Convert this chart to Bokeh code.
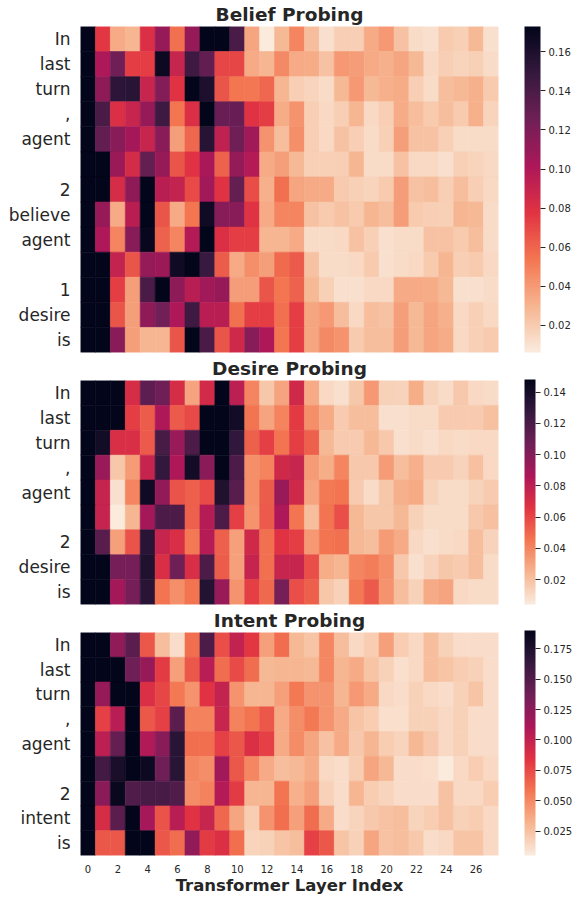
import numpy as np
from bokeh.plotting import figure
from bokeh.models import (ColumnDataSource, LinearColorMapper, ColorBar, FixedTicker,
                          PrintfTickFormatter, Range1d, Title)
from bokeh.layouts import column
from bokeh.embed import file_html
from bokeh.resources import INLINE

# ---------------- data ----------------
layers = list(range(28))
layer_ticks = list(range(0, 28, 2))

belief_tokens = ["In", "last", "turn", ",", "agent", "", "2", "believe", "agent", "", "1", "desire", "is"]
belief_values = [
    [0.173, 0.076, 0.034, 0.029, 0.081, 0.110, 0.056, 0.110, 0.173, 0.173, 0.140, 0.036, 0.006, 0.028, 0.048, 0.026, 0.011, 0.019, 0.019, 0.034, 0.041, 0.024, 0.013, 0.011, 0.021, 0.018, 0.028, 0.011],
    [0.173, 0.101, 0.126, 0.074, 0.074, 0.168, 0.090, 0.145, 0.131, 0.071, 0.071, 0.034, 0.029, 0.046, 0.034, 0.033, 0.024, 0.041, 0.039, 0.034, 0.031, 0.036, 0.028, 0.014, 0.019, 0.016, 0.018, 0.013],
    [0.173, 0.113, 0.153, 0.155, 0.090, 0.118, 0.078, 0.173, 0.160, 0.066, 0.054, 0.053, 0.059, 0.029, 0.019, 0.016, 0.013, 0.028, 0.041, 0.028, 0.031, 0.033, 0.019, 0.013, 0.026, 0.028, 0.031, 0.021],
    [0.173, 0.140, 0.081, 0.090, 0.110, 0.145, 0.054, 0.081, 0.173, 0.128, 0.128, 0.078, 0.074, 0.033, 0.043, 0.019, 0.014, 0.019, 0.029, 0.014, 0.019, 0.033, 0.026, 0.021, 0.026, 0.021, 0.031, 0.016],
    [0.173, 0.131, 0.116, 0.105, 0.090, 0.115, 0.038, 0.059, 0.156, 0.093, 0.126, 0.106, 0.043, 0.026, 0.044, 0.019, 0.014, 0.024, 0.019, 0.013, 0.018, 0.038, 0.024, 0.024, 0.018, 0.013, 0.013, 0.013],
    [0.173, 0.173, 0.108, 0.084, 0.130, 0.110, 0.066, 0.078, 0.103, 0.061, 0.111, 0.098, 0.034, 0.038, 0.028, 0.018, 0.018, 0.019, 0.029, 0.013, 0.013, 0.024, 0.014, 0.014, 0.011, 0.018, 0.016, 0.014],
    [0.173, 0.173, 0.083, 0.113, 0.173, 0.096, 0.091, 0.069, 0.106, 0.079, 0.130, 0.068, 0.031, 0.056, 0.036, 0.034, 0.034, 0.021, 0.018, 0.016, 0.021, 0.039, 0.024, 0.026, 0.019, 0.026, 0.019, 0.014],
    [0.173, 0.110, 0.034, 0.096, 0.173, 0.066, 0.034, 0.054, 0.166, 0.116, 0.116, 0.079, 0.034, 0.048, 0.048, 0.024, 0.021, 0.024, 0.021, 0.029, 0.026, 0.039, 0.021, 0.019, 0.018, 0.029, 0.028, 0.013],
    [0.173, 0.101, 0.048, 0.116, 0.170, 0.061, 0.048, 0.098, 0.173, 0.081, 0.074, 0.074, 0.029, 0.029, 0.034, 0.013, 0.013, 0.014, 0.024, 0.018, 0.011, 0.013, 0.013, 0.024, 0.024, 0.021, 0.026, 0.013],
    [0.173, 0.173, 0.091, 0.066, 0.111, 0.108, 0.166, 0.173, 0.148, 0.063, 0.034, 0.044, 0.038, 0.058, 0.064, 0.024, 0.013, 0.013, 0.014, 0.021, 0.011, 0.013, 0.014, 0.021, 0.029, 0.019, 0.021, 0.014],
    [0.173, 0.173, 0.074, 0.038, 0.140, 0.173, 0.113, 0.096, 0.106, 0.110, 0.039, 0.039, 0.066, 0.054, 0.061, 0.028, 0.018, 0.011, 0.011, 0.014, 0.014, 0.034, 0.034, 0.033, 0.028, 0.011, 0.011, 0.013],
    [0.173, 0.173, 0.066, 0.038, 0.113, 0.125, 0.101, 0.145, 0.096, 0.096, 0.056, 0.074, 0.074, 0.056, 0.074, 0.036, 0.041, 0.026, 0.014, 0.026, 0.024, 0.038, 0.028, 0.036, 0.031, 0.014, 0.018, 0.014],
    [0.173, 0.173, 0.115, 0.038, 0.029, 0.029, 0.066, 0.173, 0.140, 0.066, 0.086, 0.116, 0.101, 0.054, 0.074, 0.036, 0.046, 0.043, 0.021, 0.026, 0.026, 0.039, 0.028, 0.036, 0.033, 0.014, 0.018, 0.021],
]
belief_ticks = [0.02, 0.04, 0.06, 0.08, 0.10, 0.12, 0.14, 0.16]

desire_tokens = ["In", "last", "turn", ",", "agent", "", "2", "desire", "is"]
desire_values = [
    [0.148, 0.148, 0.148, 0.070, 0.113, 0.108, 0.070, 0.030, 0.072, 0.148, 0.080, 0.040, 0.018, 0.030, 0.073, 0.028, 0.011, 0.008, 0.018, 0.034, 0.014, 0.013, 0.027, 0.013, 0.010, 0.017, 0.011, 0.010],
    [0.148, 0.148, 0.148, 0.063, 0.053, 0.086, 0.054, 0.059, 0.148, 0.148, 0.141, 0.046, 0.030, 0.041, 0.064, 0.037, 0.028, 0.016, 0.021, 0.021, 0.008, 0.008, 0.010, 0.010, 0.016, 0.016, 0.016, 0.020],
    [0.148, 0.141, 0.069, 0.069, 0.054, 0.121, 0.093, 0.119, 0.148, 0.148, 0.129, 0.052, 0.062, 0.046, 0.063, 0.052, 0.023, 0.016, 0.016, 0.023, 0.017, 0.008, 0.010, 0.008, 0.011, 0.010, 0.011, 0.011],
    [0.148, 0.093, 0.018, 0.033, 0.077, 0.128, 0.085, 0.141, 0.098, 0.148, 0.119, 0.037, 0.041, 0.073, 0.076, 0.033, 0.027, 0.040, 0.017, 0.017, 0.033, 0.021, 0.026, 0.016, 0.016, 0.013, 0.020, 0.011],
    [0.148, 0.077, 0.008, 0.040, 0.142, 0.095, 0.056, 0.052, 0.059, 0.136, 0.115, 0.037, 0.053, 0.093, 0.073, 0.030, 0.044, 0.046, 0.016, 0.010, 0.018, 0.026, 0.028, 0.013, 0.010, 0.010, 0.013, 0.016],
    [0.148, 0.077, 0.004, 0.024, 0.089, 0.119, 0.119, 0.052, 0.083, 0.119, 0.062, 0.036, 0.054, 0.085, 0.046, 0.021, 0.046, 0.057, 0.023, 0.018, 0.018, 0.023, 0.014, 0.010, 0.010, 0.010, 0.017, 0.020],
    [0.148, 0.115, 0.031, 0.056, 0.132, 0.076, 0.069, 0.044, 0.083, 0.052, 0.031, 0.073, 0.047, 0.066, 0.063, 0.034, 0.046, 0.047, 0.023, 0.021, 0.033, 0.028, 0.011, 0.008, 0.010, 0.011, 0.021, 0.013],
    [0.148, 0.148, 0.105, 0.105, 0.136, 0.069, 0.108, 0.069, 0.119, 0.053, 0.031, 0.077, 0.047, 0.076, 0.076, 0.057, 0.027, 0.024, 0.040, 0.043, 0.037, 0.017, 0.008, 0.013, 0.018, 0.016, 0.021, 0.010],
    [0.148, 0.148, 0.089, 0.105, 0.132, 0.046, 0.037, 0.046, 0.135, 0.093, 0.036, 0.062, 0.049, 0.105, 0.057, 0.052, 0.018, 0.014, 0.044, 0.054, 0.036, 0.021, 0.014, 0.028, 0.030, 0.011, 0.010, 0.010],
]
desire_ticks = [0.02, 0.04, 0.06, 0.08, 0.10, 0.12, 0.14]

intent_tokens = ["In", "last", "turn", ",", "agent", "", "2", "intent", "is"]
intent_values = [
    [0.190, 0.190, 0.123, 0.147, 0.070, 0.027, 0.012, 0.061, 0.153, 0.073, 0.101, 0.083, 0.040, 0.062, 0.029, 0.024, 0.051, 0.027, 0.014, 0.020, 0.040, 0.020, 0.014, 0.027, 0.018, 0.012, 0.012, 0.012],
    [0.190, 0.190, 0.190, 0.138, 0.120, 0.081, 0.040, 0.070, 0.105, 0.062, 0.075, 0.062, 0.029, 0.031, 0.031, 0.029, 0.051, 0.031, 0.036, 0.024, 0.018, 0.011, 0.014, 0.027, 0.024, 0.020, 0.018, 0.012],
    [0.190, 0.120, 0.190, 0.190, 0.088, 0.077, 0.057, 0.046, 0.085, 0.099, 0.046, 0.031, 0.031, 0.040, 0.057, 0.046, 0.046, 0.031, 0.044, 0.036, 0.014, 0.012, 0.018, 0.014, 0.012, 0.018, 0.024, 0.012],
    [0.190, 0.079, 0.105, 0.190, 0.070, 0.079, 0.147, 0.053, 0.053, 0.098, 0.053, 0.059, 0.070, 0.036, 0.048, 0.057, 0.046, 0.036, 0.024, 0.020, 0.011, 0.011, 0.018, 0.018, 0.014, 0.018, 0.012, 0.012],
    [0.190, 0.103, 0.142, 0.190, 0.109, 0.127, 0.170, 0.061, 0.061, 0.079, 0.070, 0.088, 0.079, 0.036, 0.049, 0.038, 0.025, 0.036, 0.022, 0.031, 0.020, 0.016, 0.029, 0.022, 0.014, 0.018, 0.012, 0.012],
    [0.190, 0.157, 0.177, 0.190, 0.184, 0.138, 0.170, 0.051, 0.048, 0.116, 0.070, 0.051, 0.036, 0.027, 0.029, 0.035, 0.014, 0.012, 0.020, 0.038, 0.029, 0.012, 0.012, 0.011, 0.005, 0.014, 0.020, 0.014],
    [0.190, 0.125, 0.186, 0.151, 0.155, 0.155, 0.151, 0.049, 0.053, 0.107, 0.081, 0.031, 0.031, 0.059, 0.033, 0.040, 0.018, 0.012, 0.031, 0.020, 0.016, 0.012, 0.012, 0.012, 0.025, 0.014, 0.014, 0.020],
    [0.190, 0.090, 0.147, 0.190, 0.114, 0.072, 0.105, 0.085, 0.098, 0.064, 0.038, 0.020, 0.046, 0.061, 0.040, 0.062, 0.036, 0.012, 0.016, 0.022, 0.025, 0.027, 0.016, 0.020, 0.025, 0.018, 0.020, 0.014],
    [0.190, 0.070, 0.070, 0.190, 0.190, 0.070, 0.062, 0.123, 0.081, 0.088, 0.061, 0.016, 0.018, 0.024, 0.027, 0.079, 0.070, 0.024, 0.018, 0.038, 0.025, 0.027, 0.022, 0.012, 0.014, 0.024, 0.024, 0.014],
]
intent_ticks = [0.025, 0.050, 0.075, 0.100, 0.125, 0.150, 0.175]

# ---------------- style ----------------
FONT = "DejaVu Sans"
TXT = "#262626"
ROCKET_ANCHORS = ["#03051a", "#35193e", "#701f57", "#ad1759",
                  "#e13342", "#f37651", "#f6b48f", "#faebdd"]


def build_palette(anchors, n=256):
    rgb = np.array([[int(h[i:i + 2], 16) for i in (1, 3, 5)] for h in anchors], float)
    pos = np.linspace(0, 1, len(anchors))
    out = []
    for t in np.linspace(0, 1, n):
        c = [int(round(np.interp(t, pos, rgb[:, k]))) for k in range(3)]
        out.append("#%02x%02x%02x" % tuple(c))
    return out[::-1]  # reversed: low values light


PALETTE = build_palette(ROCKET_ANCHORS)

W = 574
LEFT = 80
RIGHT = 76
FRAME_W = W - LEFT - RIGHT
CB_GAP = 26


def make_heatmap(title, tokens, values, cticks, cfmt, height, top, bottom, show_x):
    n = len(tokens)
    xs, ys, vs = [], [], []
    for i, row in enumerate(values):
        for j, v in enumerate(row):
            xs.append(layers[j])
            ys.append(n - 1 - i)
            vs.append(v)
    src = ColumnDataSource(dict(x=xs, y=ys, v=vs))
    mapper = LinearColorMapper(palette=PALETTE, low=min(vs), high=max(vs))

    p = figure(width=W, height=height,
               x_range=Range1d(-0.5, len(layers) - 0.5), y_range=Range1d(-0.5, n - 0.5),
               output_backend="svg", toolbar_location=None,
               x_axis_location="below" if show_x else None,
               min_border_left=LEFT, min_border_right=RIGHT,
               min_border_top=top, min_border_bottom=bottom)
    p.title = Title(text=title, align="center", text_font=FONT, text_font_size="18.5px",
                    text_font_style="bold", text_color=TXT, standoff=3, offset=0)
    p.rect(x="x", y="y", width=1, height=1, source=src,
           fill_color={"field": "v", "transform": mapper},
           line_color={"field": "v", "transform": mapper}, line_width=0.6)

    p.xgrid.visible = False
    p.ygrid.visible = False
    p.outline_line_color = None
    p.background_fill_color = "white"
    p.border_fill_color = "white"

    ya = p.yaxis[0]
    ya.ticker = FixedTicker(ticks=list(range(n)))
    ya.major_label_overrides = {n - 1 - i: t for i, t in enumerate(tokens)}
    ya.axis_line_color = None
    ya.major_tick_line_color = None
    ya.minor_tick_line_color = None
    ya.major_tick_out = 0
    ya.major_tick_in = 0
    ya.minor_tick_out = 0
    ya.major_label_text_font = FONT
    ya.major_label_text_font_size = "17px"
    ya.major_label_text_color = TXT
    ya.major_label_standoff = 10

    if show_x:
        xa = p.xaxis[0]
        xa.ticker = FixedTicker(ticks=layer_ticks)
        xa.axis_line_color = None
        xa.major_tick_line_color = None
        xa.minor_tick_line_color = None
        xa.major_tick_out = 0
        xa.major_tick_in = 0
        xa.minor_tick_out = 0
        xa.major_label_text_font = FONT
        xa.major_label_text_font_size = "10px"
        xa.major_label_text_color = TXT
        xa.major_label_standoff = 9
        xa.axis_label = "Transformer Layer Index"
        xa.axis_label_text_font = FONT
        xa.axis_label_text_font_size = "16.5px"
        xa.axis_label_text_font_style = "bold"
        xa.axis_label_text_color = TXT
        xa.axis_label_standoff = 0

    frame_h = height - top - bottom
    cb = ColorBar(color_mapper=mapper, ticker=FixedTicker(ticks=cticks),
                  formatter=PrintfTickFormatter(format=cfmt),
                  width=round(frame_h / 20), height=frame_h, padding=0, margin=0,
                  location=(FRAME_W + CB_GAP, 0),
                  major_label_text_font=FONT, major_label_text_font_size="10px",
                  major_label_text_color=TXT, label_standoff=3,
                  major_tick_out=5, major_tick_in=0, major_tick_line_color=TXT,
                  minor_tick_line_color=None, bar_line_color=None,
                  border_line_color=None, background_fill_alpha=0)
    p.add_layout(cb)
    return p


p1 = make_heatmap("Belief Probing", belief_tokens, belief_values, belief_ticks, "%.2f",
                  354, 26, 2, False)
p2 = make_heatmap("Desire Probing", desire_tokens, desire_values, desire_ticks, "%.2f",
                  252, 25, 2, False)
p3 = make_heatmap("Intent Probing", intent_tokens, intent_values, intent_ticks, "%.3f",
                  291, 25, 41, True)

layout = column(p1, p2, p3, spacing=0)
open("out.html", "w").write(file_html(layout, INLINE))
